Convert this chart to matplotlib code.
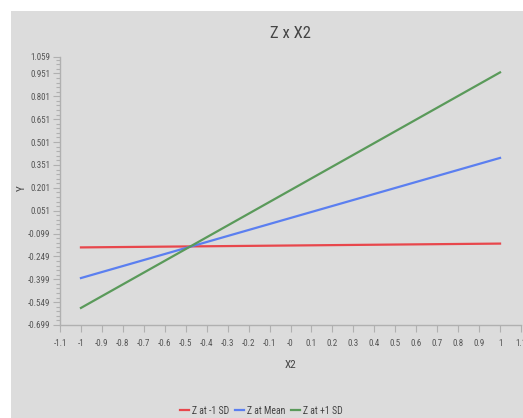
import matplotlib.pyplot as plt
from matplotlib import font_manager
from matplotlib.patches import Rectangle
from matplotlib.ticker import FixedLocator

# prefer a narrow face when one is installed
installed = {f.name for f in font_manager.fontManager.ttflist}
narrow = [n for n in ("Liberation Sans Narrow", "Roboto Condensed",
                      "Open Sans Condensed") if n in installed]
plt.rcParams['font.family'] = narrow + ['DejaVu Sans']
plt.rcParams['font.stretch'] = 'condensed'

# simple slopes of Y on X2 at three levels of Z
x2 = [-1, 1]
z_low = [-0.19, -0.165]
z_mean = [-0.391, 0.397]
z_high = [-0.587, 0.958]

series = [
    ("Z at -1 SD", z_low, "#e8474c"),
    ("Z at Mean", z_mean, "#5b7ff0"),
    ("Z at +1 SD", z_high, "#5a9a5a"),
]

xticks = [-1.1, -1, -0.9, -0.8, -0.7, -0.6, -0.5, -0.4, -0.3, -0.2, -0.1, 0,
          0.1, 0.2, 0.3, 0.4, 0.5, 0.6, 0.7, 0.8, 0.9, 1, 1.1]
xlabels = ["-1.1", "-1", "-0.9", "-0.8", "-0.7", "-0.6", "-0.5", "-0.4", "-0.3",
           "-0.2", "-0.1", "-0", "0.1", "0.2", "0.3", "0.4", "0.5", "0.6", "0.7",
           "0.8", "0.9", "1", "1.1"]
yticks = [-0.699, -0.549, -0.399, -0.249, -0.099, 0.051, 0.201, 0.351, 0.501,
          0.651, 0.801, 0.951, 1.059]
ylabels = ["-0.699", "-0.549", "-0.399", "-0.249", "-0.099", "0.051", "0.201",
           "0.351", "0.501", "0.651", "0.801", "0.951", "1.059"]

BG = "#dcdcdc"
W, H = 523, 418

fig = plt.figure(figsize=(W / 100, H / 100), dpi=100, facecolor="white")
fig.patches.append(Rectangle((11 / W, 0), 1 - 11 / W, 1 - 11 / H,
                             transform=fig.transFigure, facecolor=BG,
                             edgecolor="none", zorder=-10))

ax = fig.add_axes([60 / W, 1 - 325 / H, 461 / W, 268 / H])
ax.set_facecolor(BG)

for label, vals, color in series:
    ax.plot(x2, vals, color=color, lw=1.6, label=label)

ax.set_xlim(-1.1, 1.1)
ax.set_ylim(-0.699, 1.059)
ax.set_xticks(xticks)
ax.set_xticklabels(xlabels)
ax.set_yticks(yticks)
ax.set_yticklabels(ylabels)
minor = [-0.699 + 0.03 * i for i in range(59) if abs((0.03 * i) % 0.15) > 1e-6]
ax.yaxis.set_minor_locator(FixedLocator(minor))

for side in ("top", "right"):
    ax.spines[side].set_visible(False)
for side in ("left", "bottom"):
    ax.spines[side].set_color("#b0b0b0")
    ax.spines[side].set_linewidth(1.0)

ax.tick_params(axis="both", which="major", colors="#b0b0b0", labelcolor="#555555",
               labelsize=6.5, length=5, width=0.8)
ax.tick_params(axis="y", which="minor", colors="#b0b0b0", length=3, width=0.8)
ax.tick_params(axis="y", pad=2)
ax.tick_params(axis="x", pad=5)

ax.set_title("Z x X2", fontsize=12, color="#444444", pad=14)
ax.set_xlabel("X2", fontsize=8, color="#444444", labelpad=9)
ax.set_ylabel("Y", fontsize=8, color="#444444")
ax.yaxis.set_label_coords(-0.072, 0.51)

fig.legend(loc="lower center", bbox_to_anchor=(0.5, -0.015), ncol=3,
           frameon=False, fontsize=7, handlelength=0.9, handletextpad=0.3,
           columnspacing=0.6, labelcolor="#444444")

fig.savefig("out.png", dpi=100, facecolor=fig.get_facecolor())
